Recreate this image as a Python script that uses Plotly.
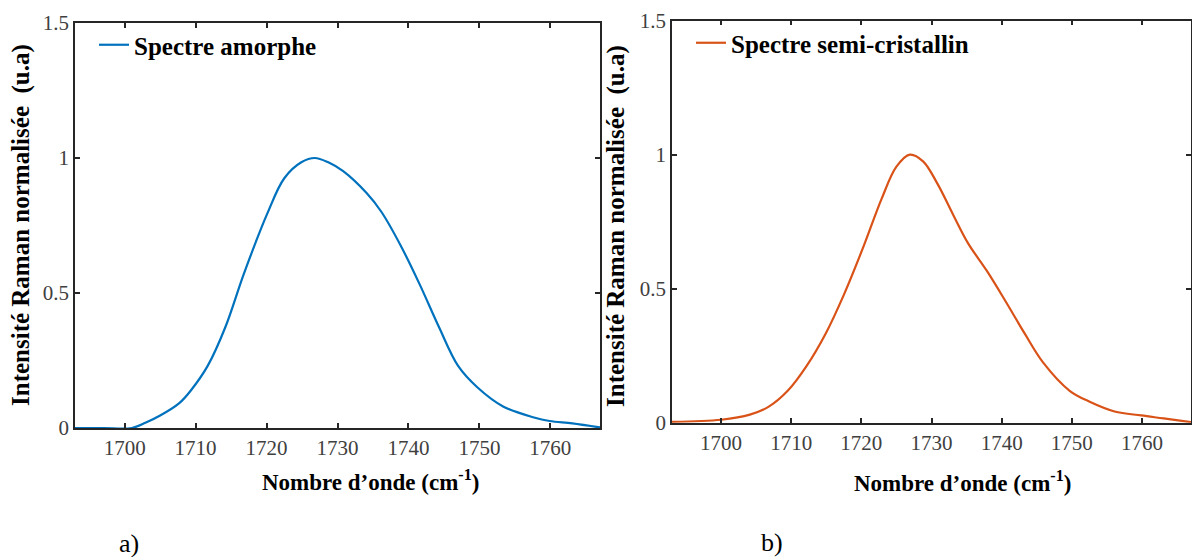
import plotly.graph_objects as go

# ---- data ----
x_amorphe = [1693, 1697, 1701, 1703, 1705.0, 1707.7, 1709.3, 1711.7, 1714.2, 1716.8, 1720.1, 1722.5,
             1724.9, 1726.8, 1728.7, 1730.8, 1734.1, 1736.2, 1738.9, 1741.6, 1744.3, 1747.0,
             1749.7, 1753.4, 1757.7, 1759.9, 1763.1, 1767]
y_amorphe = [0.0, 0.0, 0.0, 0.02, 0.046, 0.092, 0.138, 0.23, 0.374, 0.571, 0.794, 0.925,
             0.984, 1.0, 0.984, 0.951, 0.870, 0.80, 0.676, 0.531, 0.374, 0.23,
             0.151, 0.079, 0.039, 0.026, 0.017, 0.002]

x_semi = [1693, 1700, 1704.1, 1706.8, 1709.5, 1712.2, 1714.9, 1717.5, 1720.2, 1722.9, 1725.0,
          1726.9, 1728.8, 1730.9, 1733.1, 1735.2, 1737.9, 1740.6, 1743.3, 1745.9, 1749.7,
          1752.4, 1756.1, 1759.9, 1763.1, 1767]
y_semi = [0.003, 0.011, 0.03, 0.06, 0.119, 0.212, 0.332, 0.477, 0.65, 0.836, 0.955,
          1.0, 0.975, 0.889, 0.775, 0.67, 0.566, 0.451, 0.332, 0.225, 0.119,
          0.08, 0.042, 0.027, 0.016, 0.002]

x_ticks = [1700, 1710, 1720, 1730, 1740, 1750, 1760]
y_ticks = [0, 0.5, 1, 1.5]
y_tick_text = ["0", "0.5", "1", "1.5"]

name_a = "Spectre amorphe"
name_b = "Spectre semi-cristallin"
y_title = "Intensité Raman normalisée  (u.a)"
x_title = "Nombre d’onde (cm<sup>-1</sup>)"

W, H = 1192, 557
SERIF = "Liberation Serif, Times New Roman, serif"
AX = "#262626"

fig = go.Figure()
fig.add_trace(go.Scatter(x=x_amorphe, y=y_amorphe, mode="lines", name="<b>" + name_a + "</b>",
                         line=dict(color="#0072BD", width=2.2, shape="spline", smoothing=1.0),
                         xaxis="x", yaxis="y", legend="legend"))
fig.add_trace(go.Scatter(x=x_semi, y=y_semi, mode="lines", name="<b>" + name_b + "</b>",
                         line=dict(color="#D95319", width=2.2, shape="spline", smoothing=1.0),
                         xaxis="x2", yaxis="y2", legend="legend2"))

def px_x(p):
    return p / W

def px_y(p):
    return 1 - p / H

common_x = dict(range=[1693, 1767], tickvals=x_ticks, ticks="inside", ticklen=5, tickwidth=1.5,
                tickcolor=AX, showline=True, linecolor=AX, linewidth=1.5, mirror="ticks",
                showgrid=False, zeroline=False, automargin=False,
                tickfont=dict(family=SERIF, size=21, color="#404040"))
common_y = dict(range=[0, 1.5], tickvals=y_ticks, ticktext=y_tick_text, ticks="inside", ticklen=5,
                tickwidth=1.5, tickcolor=AX, showline=True, linecolor=AX, linewidth=1.5,
                mirror="ticks", showgrid=False, zeroline=False, automargin=False,
                tickfont=dict(family=SERIF, size=21, color="#404040"))

legend_font = dict(family=SERIF, size=25, color="black")

fig.update_layout(
    template="none",
    width=W, height=H, margin=dict(l=0, r=0, t=0, b=0, autoexpand=False),
    paper_bgcolor="white", plot_bgcolor="white",
    xaxis=dict(domain=[px_x(75), px_x(600)], anchor="y", **common_x),
    yaxis=dict(domain=[px_y(428), px_y(23)], anchor="x", **common_y),
    xaxis2=dict(domain=[px_x(672), px_x(1191)], anchor="y2", **common_x),
    yaxis2=dict(domain=[px_y(422.7), px_y(20.6)], anchor="x2", **common_y),
    legend=dict(x=px_x(94), y=px_y(45), xanchor="left", yanchor="middle",
                bgcolor="rgba(0,0,0,0)", borderwidth=0, font=legend_font, itemwidth=30),
    legend2=dict(x=px_x(691), y=px_y(43), xanchor="left", yanchor="middle",
                 bgcolor="rgba(0,0,0,0)", borderwidth=0, font=legend_font, itemwidth=30),
    showlegend=True,
)

ann = []
for cx, cy in [(21, 225), (616, 226)]:
    ann.append(dict(text="<b>" + y_title + "</b>", x=px_x(cx), y=px_y(cy), xref="paper", yref="paper",
                    showarrow=False, textangle=-90, xanchor="center", yanchor="middle",
                    font=dict(family=SERIF, size=25, color="black")))
for cx, cy in [(370, 480), (962, 481)]:
    ann.append(dict(text="<b>" + x_title + "</b>", x=px_x(cx), y=px_y(cy), xref="paper", yref="paper",
                    showarrow=False, xanchor="center", yanchor="middle",
                    font=dict(family=SERIF, size=23, color="black")))
for t, cx, cy in [("a)", 129, 543), ("b)", 772, 542)]:
    ann.append(dict(text=t, x=px_x(cx), y=px_y(cy), xref="paper", yref="paper",
                    showarrow=False, xanchor="center", yanchor="middle",
                    font=dict(family=SERIF, size=26, color="black")))
fig.update_layout(annotations=ann)

fig.write_html("out.html", config={"displayModeBar": False},
               post_script="document.body.style.margin='0';document.body.style.overflow='hidden';")
